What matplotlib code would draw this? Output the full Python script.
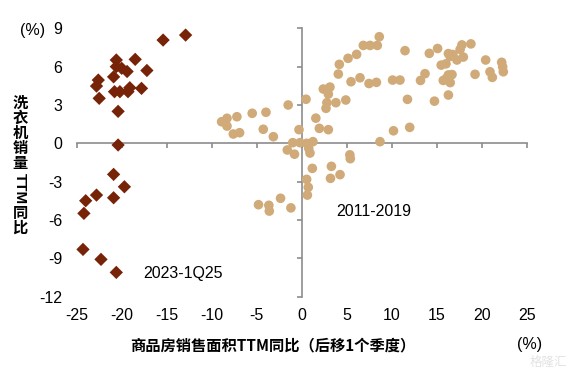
import matplotlib
matplotlib.use("Agg")
import matplotlib.pyplot as plt
import numpy as np

# ---- data ----
# 2011-2019 (x: 商品房销售面积TTM同比 lagged, y: 洗衣机销量TTM同比)
hist_x = [-8.9, -8.3, -8.3, -7.2, -7.6, -6.9, -5.5, -4.27, -3.97, -3.15, -1.5, -0.3,
          -1.6, -0.8, -1.0, -0.19, 0.55, 1.25, 0.78, 0.92,
          -4.8, -3.65, -3.6, -2.35, -1.2,
          0.55, 0.73, 0.63, 1.18, 3.3, 3.2, 4.26, 5.35, 5.4,
          0.48, 1.57, 1.96, 2.96, 2.4, 3.14, 2.96, 2.8, 2.7, 3.8, 4.9,
          4.07, 4.18, 5.15, 6.1, 6.85, 7.6, 8.4, 8.62, 5.48, 6.48, 7.48, 8.3,
          10.1, 10.92, 11.48, 11.75, 10.2, 12.0, 8.7,
          13.2, 13.7, 14.18, 15.1, 14.75, 15.5, 16.03, 16.3, 16.8, 16.5, 17.6, 17.8,
          18.8, 17.25, 17.96, 15.73, 16.3, 16.7, 16.1, 16.5, 16.3, 19.26, 20.44,
          20.92, 21.18, 22.22, 22.33, 22.4]
hist_y = [1.69, 1.96, 1.35, 2.08, 0.73, 0.83, 2.35, 1.1, 2.43, 0.52, 3.0, 1.07,
          -0.52, -0.85, 0.05, 0.05, 0.0, 0.13, -0.39, -0.76,
          -4.8, -4.85, -5.3, -4.3, -5.05,
          -2.82, -3.44, -4.05, -1.96, -1.8, -2.74, -2.45, -0.9, -1.2,
          3.45, 1.97, 1.17, 1.07, 4.25, 4.4, 3.85, 3.18, 2.74, 3.18, 3.39,
          5.42, 6.18, 6.65, 6.96, 7.66, 7.66, 7.66, 8.34, 4.82, 5.13, 4.68, 4.77,
          4.95, 4.95, 7.25, 3.44, 0.98, 1.25, 0.13,
          4.92, 5.45, 7.04, 7.42, 3.3, 6.12, 6.22, 7.02, 6.95, 6.8, 7.35, 7.7,
          7.78, 6.52, 6.75, 4.92, 5.35, 5.38, 5.1, 4.75, 3.78, 5.4, 6.52,
          5.6, 5.16, 6.34, 5.98, 5.6]

# 2023-1Q25
recent_x = [-12.9, -15.4, -18.5, -20.6, -20.6, -20.0, -19.4, -17.2, -20.9, -22.6, -22.8,
            -22.5, -20.8, -20.2, -19.3, -19.1, -17.8, -20.4, -20.4,
            -20.9, -19.7, -22.8, -24.0, -20.9, -24.2, -24.3, -22.3, -20.6]
recent_y = [8.47, 8.08, 6.57, 6.52, 6.0, 5.87, 5.62, 5.7, 5.2, 4.95, 4.48,
            3.52, 4.04, 4.04, 4.04, 4.35, 4.3, 2.5, -0.13,
            -2.43, -3.4, -4.05, -4.49, -4.26, -5.48, -8.3, -9.08, -10.1]

xticks = [-25, -20, -15, -10, -5, 0, 5, 10, 15, 20, 25]
yticks = [-12, -9, -6, -3, 0, 3, 6, 9]

label_hist = "2011-2019"
label_recent = "2023-1Q25"
xlabel = "商品房销售面积TTM同比（后移1个季度）"

col_hist = "#D0AA78"
col_recent = "#772308"
axis_col = "#8C8C8C"

latin = ["Liberation Sans", "DejaVu Sans"]
cjk = ["Noto Sans CJK SC", "DejaVu Sans"]

W, H = 569, 374
fig = plt.figure(figsize=(W / 100, H / 100), dpi=100)
ax = fig.add_axes([76.7 / W, 1 - 296.7 / H, 450 / W, 268.4 / H])
ax.set_xlim(-25, 25)
ax.set_ylim(-12, 9)

for s in ["top", "right"]:
    ax.spines[s].set_visible(False)
ax.spines["left"].set_position(("data", 0))
ax.spines["bottom"].set_position(("data", 0))
for s in ["left", "bottom"]:
    ax.spines[s].set_color(axis_col)
    ax.spines[s].set_linewidth(1.2)
ax.set_xticks(xticks)
ax.set_yticks(yticks)
ax.tick_params(axis="both", direction="out", length=3.8, width=1.2, color=axis_col,
               labelbottom=False, labelleft=False)

# tick labels at figure edges
secx = ax.secondary_xaxis("bottom")
secx.set_xticks(xticks)
secx.set_xticklabels([str(t) for t in xticks], fontfamily=latin, fontsize=11.5)
secx.tick_params(length=0, pad=8)
secx.spines["bottom"].set_visible(False)

secy = ax.secondary_yaxis("left")
secy.set_yticks(yticks)
secy.set_yticklabels([str(t) for t in yticks], fontfamily=latin, fontsize=11.5)
secy.tick_params(length=0, pad=10.5)
secy.spines["left"].set_visible(False)

ax.scatter(hist_x, hist_y, s=48, marker="o", color=col_hist, edgecolors="none", zorder=3,
           clip_on=False)
ax.scatter(recent_x, recent_y, s=46, marker="D", color=col_recent, edgecolors="none",
           zorder=4, clip_on=False)

ax.text(8.0, -5.35, label_hist, fontfamily=latin, fontsize=11.5, ha="center", va="center")
ax.text(-13.2, -10.2, label_recent, fontfamily=latin, fontsize=11.5, ha="center", va="center")

# unit labels
fig.text(33 / W, 1 - 30 / H, "(%)", fontfamily=latin, fontsize=11.5, ha="center", va="center")
fig.text(530 / W, 1 - 344 / H, "(%)", fontfamily=latin, fontsize=11.5, ha="center", va="center")

# x label
fig.text(273 / W, 1 - 345 / H, xlabel, fontfamily=cjk, fontsize=11, fontweight="bold",
         ha="center", va="center")

# y label (vertical, CJK upright, TTM rotated)
fig.text(20 / W, 1 - 95 / H, "洗\n衣\n机\n销\n量", fontfamily=cjk, fontsize=11,
         fontweight="bold", ha="center", va="top", linespacing=0.92)
fig.text(20 / W, 1 - 189 / H, "TTM", fontfamily=latin, fontsize=11, fontweight="bold",
         ha="center", va="center", rotation=-90)
fig.text(20 / W, 1 - 205 / H, "同\n比", fontfamily=cjk, fontsize=11,
         fontweight="bold", ha="center", va="top", linespacing=0.92)

# watermark
fig.text(548 / W, 1 - 362 / H, "格隆汇", fontfamily=cjk, fontsize=9, color="#E3E3E3",
         ha="center", va="center")

fig.savefig("out.png", dpi=100)
